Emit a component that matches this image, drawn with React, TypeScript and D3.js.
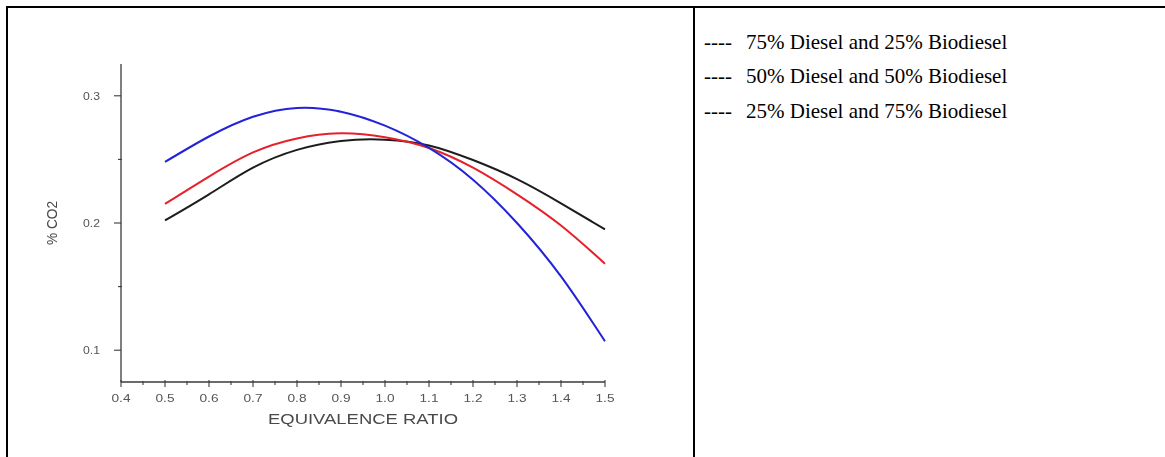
import React from "react";
import * as d3 from "d3";

// Equivalence ratio sample points and % CO2 readings for each blend
const equivalenceRatio = [0.5, 0.6, 0.7, 0.8, 0.9, 1.0, 1.1, 1.2, 1.3, 1.4, 1.5];
const co2Diesel75 = [0.202, 0.2225, 0.2435, 0.2575, 0.2645, 0.2655, 0.261, 0.2495, 0.2345, 0.2155, 0.195];
const co2Diesel50 = [0.215, 0.2365, 0.2555, 0.2665, 0.2705, 0.2675, 0.259, 0.2435, 0.2225, 0.198, 0.168];
const co2Diesel25 = [0.248, 0.268, 0.2835, 0.2905, 0.2875, 0.2765, 0.259, 0.234, 0.2, 0.158, 0.107];

const xMajorTicks = [0.4, 0.5, 0.6, 0.7, 0.8, 0.9, 1.0, 1.1, 1.2, 1.3, 1.4, 1.5];
const xMinorTicks = [0.45, 0.55, 0.65, 0.75, 0.85, 0.95, 1.05, 1.15, 1.25, 1.35, 1.45];
const yMajorTicks = [0.1, 0.2, 0.3];
const yMinorTicks = [0.15, 0.25];

const legendLabels = [
  "75% Diesel and 25% Biodiesel",
  "50% Diesel and 50% Biodiesel",
  "25% Diesel and 75% Biodiesel",
];

const seriesValues = [co2Diesel75, co2Diesel50, co2Diesel25];
const seriesColors = ["#1e1e1e", "#e5202c", "#2222d8"];

export default function App() {
  const W = 1165;
  const H = 457;

  const x = d3.scaleLinear().domain([0.4, 1.5]).range([121, 605]);
  const y = d3.scaleLinear().domain([0.075, 0.325]).range([382, 64]);

  const line = d3
    .line<number>()
    .x((_, i) => x(equivalenceRatio[i]))
    .y((v) => y(v))
    .curve(d3.curveNatural);

  const axisColor = "#3a3a3a";
  const labelColor = "#555";
  const sans = "'Liberation Sans', Arial, sans-serif";
  const serif = "'Liberation Serif', 'Times New Roman', serif";

  return (
    <svg
      width={W}
      height={H}
      style={{ position: "fixed", left: 0, top: 0, background: "#fff" }}
    >
      <defs>
        <filter id="soft" x="-5%" y="-5%" width="110%" height="110%">
          <feGaussianBlur stdDeviation="0.45" />
        </filter>
      </defs>
      <rect x={0} y={0} width={W} height={H} fill="#fff" />

      {/* table frame */}
      <line x1={6} x2={W} y1={7} y2={7} stroke="#000" strokeWidth={2} />
      <line x1={7} x2={7} y1={6} y2={H} stroke="#000" strokeWidth={2} />
      <line x1={694} x2={694} y1={6} y2={H} stroke="#000" strokeWidth={2} />

      {/* chart */}
      <g filter="url(#soft)">
        <line x1={x(0.4)} x2={x(0.4)} y1={64} y2={382} stroke={axisColor} strokeWidth={1.3} />
        <line x1={x(0.4)} x2={x(1.5)} y1={382} y2={382} stroke={axisColor} strokeWidth={1.3} />

        {xMajorTicks.map((t) => (
          <g key={"xm" + t}>
            <line x1={x(t)} x2={x(t)} y1={380} y2={387} stroke={axisColor} strokeWidth={1.1} />
            <text
              x={x(t)}
              y={402}
              textAnchor="middle"
              fontFamily={sans}
              fontSize={11}
              textLength={19}
              lengthAdjust="spacingAndGlyphs"
              fill={labelColor}
            >
              {t.toFixed(1)}
            </text>
          </g>
        ))}
        {xMinorTicks.map((t) => (
          <line key={"xn" + t} x1={x(t)} x2={x(t)} y1={381} y2={385} stroke={axisColor} strokeWidth={1.1} />
        ))}

        {yMajorTicks.map((t) => (
          <g key={"ym" + t}>
            <line x1={114} x2={x(0.4)} y1={y(t)} y2={y(t)} stroke={axisColor} strokeWidth={1.1} />
            <text
              x={100}
              y={y(t)}
              dy="0.35em"
              textAnchor="end"
              fontFamily={sans}
              fontSize={11}
              textLength={17}
              lengthAdjust="spacingAndGlyphs"
              fill={labelColor}
            >
              {t.toFixed(1)}
            </text>
          </g>
        ))}
        {yMinorTicks.map((t) => (
          <line key={"yn" + t} x1={118} x2={x(0.4) + 1} y1={y(t)} y2={y(t)} stroke={axisColor} strokeWidth={1.1} />
        ))}

        <text
          x={363}
          y={424}
          textAnchor="middle"
          fontFamily={sans}
          fontSize={15}
          textLength={190}
          lengthAdjust="spacingAndGlyphs"
          fill="#4a4a4a"
        >
          EQUIVALENCE RATIO
        </text>
        <text
          transform={`translate(57, ${y(0.2)}) rotate(-90)`}
          textAnchor="middle"
          fontFamily={sans}
          fontSize={14}
          textLength={44}
          lengthAdjust="spacingAndGlyphs"
          fill="#4a4a4a"
        >
          % CO2
        </text>

        {seriesValues.map((vals, i) => (
          <path
            key={"s" + i}
            d={line(vals) ?? ""}
            fill="none"
            stroke={seriesColors[i]}
            strokeWidth={2}
          />
        ))}
      </g>

      {/* legend */}
      {legendLabels.map((label, i) => (
        <g key={"lg" + i} fontFamily={serif} fontSize={21} fill="#000">
          <text x={704} y={48.5 + i * 34.5}>
            ----
          </text>
          <text x={746} y={48.5 + i * 34.5}>
            {label}
          </text>
        </g>
      ))}
    </svg>
  );
}
